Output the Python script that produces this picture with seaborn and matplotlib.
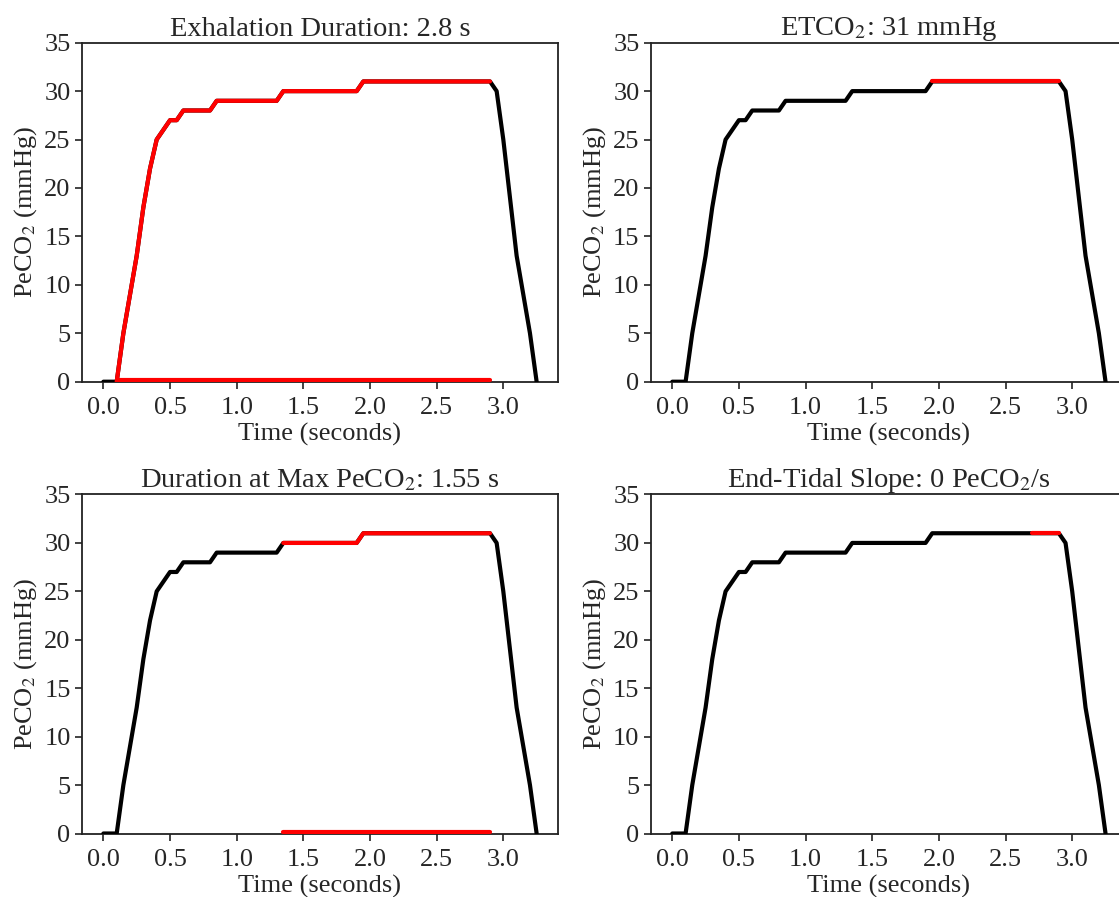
import numpy as np
import pandas as pd
import matplotlib
matplotlib.use("Agg")
import matplotlib.pyplot as plt
import seaborn as sns

# ---- data ----
time_s = [0.00, 0.05, 0.10, 0.15, 0.20, 0.25, 0.30, 0.35, 0.40, 0.45,
          0.50, 0.55, 0.60, 0.65, 0.70, 0.75, 0.80, 0.85, 0.90, 0.95,
          1.00, 1.05, 1.10, 1.15, 1.20, 1.25, 1.30, 1.35, 1.40, 1.45,
          1.50, 1.55, 1.60, 1.65, 1.70, 1.75, 1.80, 1.85, 1.90, 1.95,
          2.00, 2.05, 2.10, 2.15, 2.20, 2.25, 2.30, 2.35, 2.40, 2.45,
          2.50, 2.55, 2.60, 2.65, 2.70, 2.75, 2.80, 2.85, 2.90, 2.95,
          3.00, 3.05, 3.10, 3.15, 3.20, 3.25]
peco2 = [0, 0, 0, 5, 9, 13, 18, 22, 25, 26,
         27, 27, 28, 28, 28, 28, 28, 29, 29, 29,
         29, 29, 29, 29, 29, 29, 29, 30, 30, 30,
         30, 30, 30, 30, 30, 30, 30, 30, 30, 31,
         31, 31, 31, 31, 31, 31, 31, 31, 31, 31,
         31, 31, 31, 31, 31, 31, 31, 31, 31, 30,
         25, 19, 13, 9, 5, 0]

titles = ["Exhalation Duration: 2.8 s",
          "ETCO$_2$: 31 mmHg",
          "Duration at Max PeCO$_2$: 1.55 s",
          "End-Tidal Slope: 0 PeCO$_2$/s"]
highlight_start = [0.10, 1.95, 1.35, 2.70]
highlight_end = [2.90, 2.90, 2.90, 2.90]
baseline_bar = [True, False, True, False]
baseline_level = [0.15, 0.15]

yticks = [0, 5, 10, 15, 20, 25, 30, 35]
xticks = [0.0, 0.5, 1.0, 1.5, 2.0, 2.5, 3.0]

df = pd.DataFrame({"t": time_s, "v": peco2})

sns.set_theme(style="ticks")
plt.rcParams["font.family"] = ["Liberation Serif", "DejaVu Serif"]
plt.rcParams["mathtext.fontset"] = "stix"
plt.rcParams["axes.edgecolor"] = "#222222"
plt.rcParams["axes.linewidth"] = 1.3

W, H = 1119, 897
fig = plt.figure(figsize=(W / 100, H / 100), dpi=100)
fig.patch.set_facecolor("white")

def box(l, t, r, b):
    return [l / W, (H - b) / H, (r - l) / W, (b - t) / H]

positions = [box(81.7, 42.7, 558.3, 381.7),
             box(650.6, 42.7, 1127.2, 381.7),
             box(81.7, 494.5, 558.3, 833.5),
             box(650.6, 494.5, 1127.2, 833.5)]

FS = 19
TFS = 20.5
for i in range(4):
    ax = fig.add_axes(positions[i])
    sns.lineplot(data=df, x="t", y="v", ax=ax, color="black", linewidth=3.0,
                 sort=False, estimator=None, zorder=3)
    sub = df[(df["t"] >= highlight_start[i] - 1e-9) & (df["t"] <= highlight_end[i] + 1e-9)]
    sns.lineplot(data=sub, x="t", y="v", ax=ax, color="#ff0000", linewidth=3.0,
                 sort=False, estimator=None, zorder=4)
    if baseline_bar[i]:
        sns.lineplot(x=[highlight_start[i], highlight_end[i]], y=baseline_level, ax=ax,
                     color="#ff0000", linewidth=3.0, zorder=4)
    ax.set_ylim(0, 35)
    ax.set_xlim(-0.1625, 3.4125)
    ax.set_yticks(yticks)
    ax.set_xticks(xticks)
    ax.set_xticklabels([f"{x:.1f}" for x in xticks])
    ax.tick_params(labelsize=FS, length=5, width=1.2, color="#222222", pad=3)
    ax.tick_params(axis="x", pad=6)
    ax.set_xlabel("Time (seconds)", fontsize=FS, labelpad=3)
    ax.set_ylabel("PeCO$_2$ (mmHg)", fontsize=FS, labelpad=4)
    ax.set_title(titles[i], fontsize=TFS, pad=5)
    for s in ax.spines.values():
        s.set_visible(True)

fig.savefig("out.png", dpi=100, facecolor="white")
